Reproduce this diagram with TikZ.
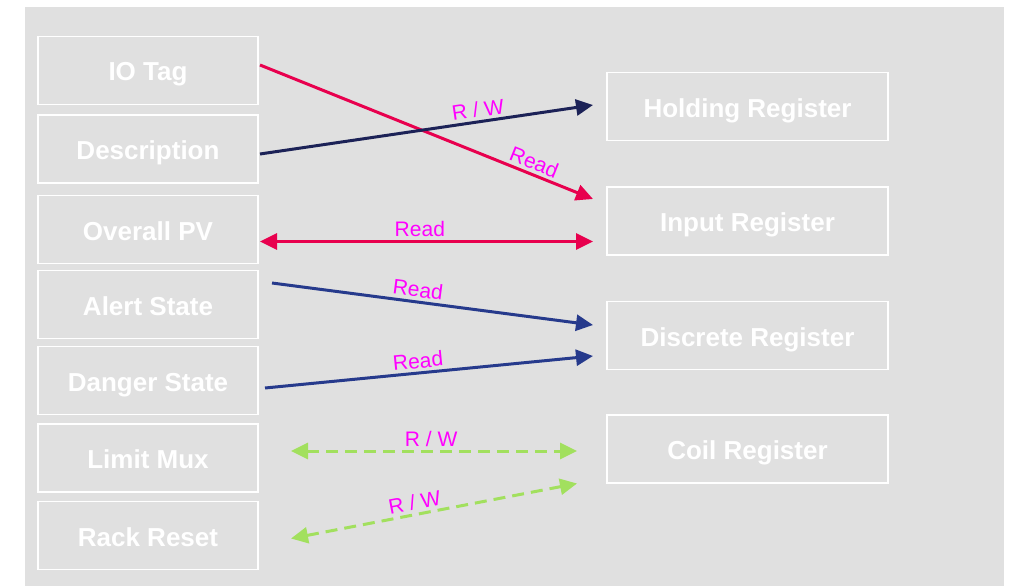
\documentclass[tikz,border=0pt]{standalone}
\usepackage{fontspec}
\setmainfont{Liberation Sans}
\usetikzlibrary{arrows.meta}
\definecolor{bggray}{HTML}{E0E0E0}
\definecolor{readred}{HTML}{E8004E}
\definecolor{rwnavy}{HTML}{1C2257}
\definecolor{readblue}{HTML}{263A8C}
\definecolor{rwgreen}{HTML}{A2E05E}
\definecolor{lblmag}{HTML}{FF00FF}
\begin{document}
\begin{tikzpicture}[x=1pt,y=-1pt,
  field/.style = {rectangle,draw=white,line width=1.5pt,minimum width=220pt,minimum height=68pt,
                  outer sep=0mm,text=white,text height=21pt,text depth=0pt,
                  font=\bfseries\fontsize{26}{30}\selectfont},
  register/.style = {field,minimum width=281pt},
  link/.style = {line width=3pt,-{Triangle[length=17pt,width=16pt]}},
  both/.style = {line width=3pt,{Triangle[length=17pt,width=16pt]}-{Triangle[length=17pt,width=16pt]}},
  lbl/.style = {text=lblmag,font=\fontsize{21}{25}\selectfont,sloped,above,inner sep=3pt}]
\useasboundingbox (0,0) rectangle (1012,586);
\fill[bggray] (25,7) rectangle (1004,586);
\foreach \name/\txt/\y in {io/IO Tag/70.5, desc/Description/149, pv/Overall PV/229.5,
    alert/Alert State/304.5, danger/Danger State/380.5, limit/Limit Mux/458, rack/Rack Reset/535.5}
    \node[field] (\name) at (148,\y) {\txt};
\foreach \name/\txt/\y in {hold/Holding Register/106.5, input/Input Register/221,
    disc/Discrete Register/335.5, coil/Coil Register/449}
    \node[register] (\name) at (747.5,\y) {\txt};
\draw[link,readred] ([xshift=2pt,yshift=5.5pt]io.east) -- node[lbl,pos=0.81] {Read} ([xshift=-14pt,yshift=22pt]input.west);
\draw[link,rwnavy] ([xshift=2pt,yshift=-5pt]desc.east) -- node[lbl,pos=0.66] {R / W} ([xshift=-14pt,yshift=1.5pt]hold.west);
\draw[both,readred] ([xshift=2pt,yshift=-12pt]pv.east) -- node[lbl,pos=0.48] {Read} ([xshift=-14pt,yshift=-20.5pt]input.west);
\draw[link,readblue] ([xshift=14pt,yshift=21.5pt]alert.east) -- node[lbl,pos=0.45] {Read} ([xshift=-14pt,yshift=10.5pt]disc.west);
\draw[link,readblue] ([xshift=7pt,yshift=-7.5pt]danger.east) -- node[lbl,pos=0.47] {Read} ([xshift=-14pt,yshift=-20.5pt]disc.west);
\draw[both,rwgreen,dash pattern=on 12pt off 7pt] ([xshift=33pt,yshift=7pt]limit.east) -- node[lbl,pos=0.49] {R / W} ([xshift=-30pt,yshift=-2pt]coil.west);
\draw[both,rwgreen,dash pattern=on 12pt off 7pt] ([xshift=33pt,yshift=-3pt]rack.east) -- node[lbl,pos=0.44] {R / W} ([xshift=-30pt,yshift=-34.5pt]coil.west);
\end{tikzpicture}
\end{document}
